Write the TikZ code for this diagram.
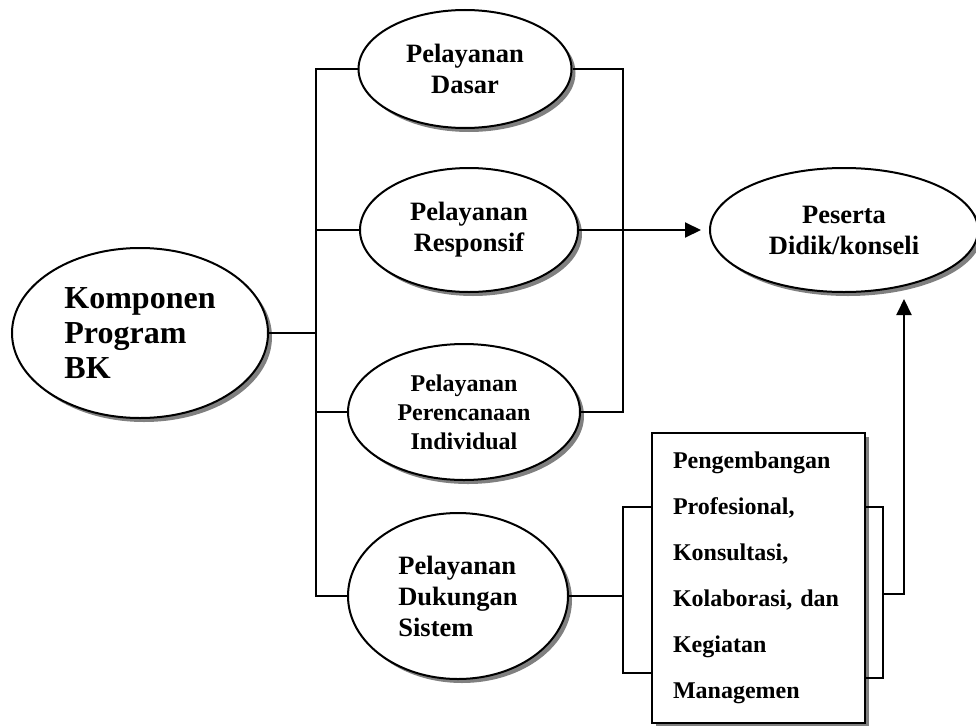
\documentclass[tikz,border=0pt]{standalone}
\usepackage{fontspec}
\setmainfont{Liberation Serif}
\usetikzlibrary{shapes.geometric,shadows,arrows.meta}
\begin{document}
\begin{tikzpicture}[x=1pt,y=-1pt,
  line width=2pt,
  shad/.style={drop shadow={shadow xshift=4pt, shadow yshift=-4pt, fill=black!50, opacity=1}},
  ell/.style={ellipse, draw, fill=white, inner sep=0pt, line width=2pt, shad},
  fbig/.style={font=\fontsize{32}{35}\selectfont\bfseries},
  fmid/.style={font=\fontsize{26.5}{31}\selectfont\bfseries},
  fsml/.style={font=\fontsize{24}{29}\selectfont\bfseries},
  fbox/.style={font=\fontsize{24}{46}\selectfont\bfseries},
  arr/.style={-{Triangle[length=16pt,width=15pt]}}
]
\useasboundingbox (0,0) rectangle (976,725);

% nodes
\node[ell, fbig, align=left, minimum width=256pt, minimum height=170pt] (K) at (140,333) {Komponen\\Program\\BK};
\node[ell, fmid, align=center, minimum width=213pt, minimum height=118pt] (D) at (465,69) {Pelayanan\\Dasar};
\node[ell, fmid, align=center, minimum width=218pt, minimum height=124pt] (R) at (469,230) {Pelayanan\\Responsif};
\node[ell, fsml, align=center, minimum width=232pt, minimum height=136pt] (P) at (464,412) {Pelayanan\\Perencanaan\\Individual};
\node[ell, fmid, align=left, minimum width=220pt, minimum height=166pt] (S) at (458,596) {Pelayanan\\Dukungan\\Sistem};
\node[ell, fmid, align=center, minimum width=268pt, minimum height=124pt] (E) at (844,230) {Peserta\\Didik/konseli};
\node[draw, fill=white, shad, fbox, align=left, text width=171pt, inner xsep=21pt, inner ysep=0pt,
      minimum height=290pt, line width=2pt] (B) at (758.5,578)
  {Pengembangan\\Profesional,\\Konsultasi,\\Kolaborasi, dan\\Kegiatan\\Managemen};

% helper coordinates
\coordinate (bx) at (316,0);
\coordinate (rx) at (623,0);
\coordinate (lbT) at (623,507);
\coordinate (lbB) at (623,673);
\coordinate (rbT) at (883,507);
\coordinate (rbB) at (883,678);
\coordinate (up) at (904,594);

% left bus
\draw (D.west) -- (D.west -| bx) -- (S.west -| bx) -- (S.west);
\draw (R.west) -- (R.west -| bx);
\draw (P.west) -- (P.west -| bx);
\draw (K.east) -- (K.east -| bx);

% right bracket
\draw (D.east) -- (D.east -| rx) -- (P.east -| rx) -- (P.east);
\draw[arr, shorten >=8pt] (R.east) -- (E.west);

% box brackets
\draw (S.east) -- (S.east -| lbT);
\draw (B.west |- lbT) -- (lbT) -- (lbB) -- (B.west |- lbB);
\draw (B.east |- rbT) -- (rbT) -- (rbB) -- (B.east |- rbB);
\draw[arr, shorten >=6pt] (rbT |- up) -- (up) -- (E.south -| up);
\end{tikzpicture}
\end{document}
